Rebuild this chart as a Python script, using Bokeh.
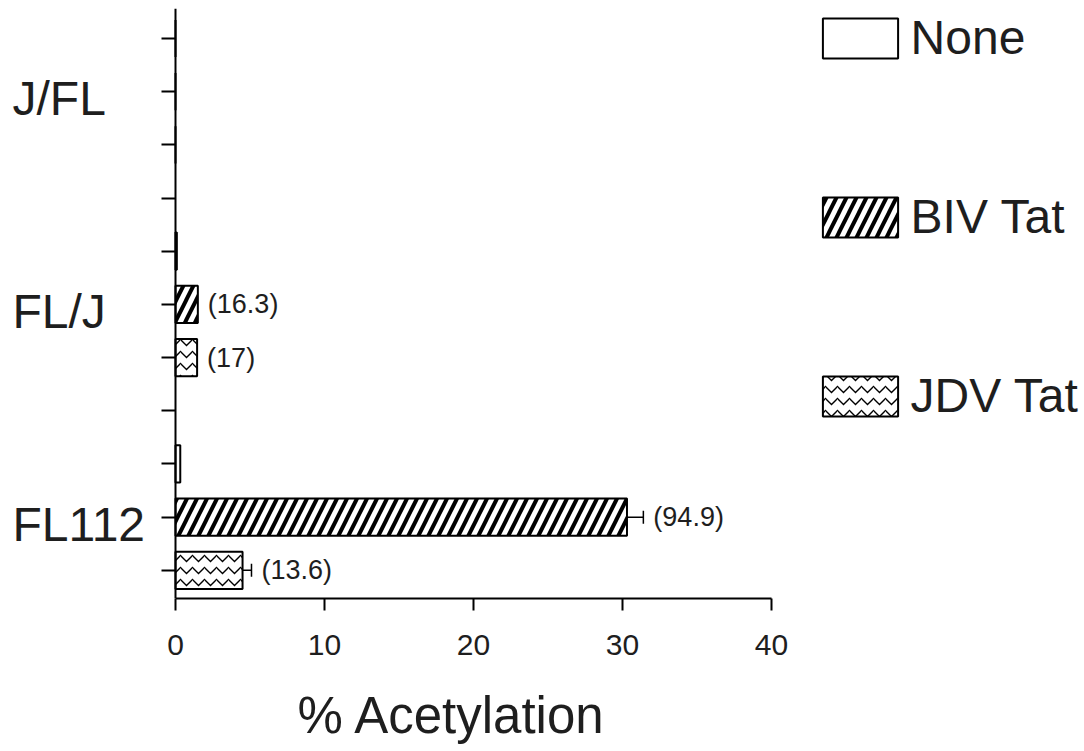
from bokeh.plotting import figure
from bokeh.models import (ColumnDataSource, Range1d, FixedTicker, Whisker, TeeHead,
                          Label, Legend, LegendItem, Title)
from bokeh.core.properties import value
from bokeh.embed import file_html
from bokeh.resources import INLINE

# ---- data ----
groups = ["J/FL", "FL/J", "FL112"]
series = ["None", "BIV Tat", "JDV Tat"]
none_vals = [0.0, 0.09, 0.32]
biv_vals = [0.0, 1.5, 30.3]
jdv_vals = [0.0, 1.45, 4.5]
none_err = [0.0, 0.0, 0.0]
biv_err = [0.0, 0.0, 1.1]
jdv_err = [0.0, 0.0, 0.6]
none_fold = ["", "", ""]
biv_fold = ["", "(16.3)", "(94.9)"]
jdv_fold = ["", "(17)", "(13.6)"]
x_ticks = [0, 10, 20, 30, 40]
x_title = "% Acetylation"

FONT = "Liberation Sans"
TXT = "#1e1e1e"

values = [none_vals, biv_vals, jdv_vals]
errors = [none_err, biv_err, jdv_err]
folds = [none_fold, biv_fold, jdv_fold]
hatches = [None, "right_diagonal_line", "horizontal_wave"]
hscale = [12, 20, 12]
hweight = [1, 4, 1.3]

slot = len(series) + 1          # three bars plus one empty slot per group
n_slots = slot * len(groups) - 1

W, AXL, AXW = 1084, 175, 596     # canvas width, x=0 position, axis length in px
xmax = x_ticks[-1]
ppu = AXW / xmax

p = figure(frame_width=W, frame_height=590,
           min_border_left=0, min_border_right=0,
           min_border_top=8, min_border_bottom=153,
           x_range=Range1d(-AXL / ppu, (W - AXL) / ppu),
           y_range=Range1d(n_slots - 1 + 0.53, -0.564),
           output_backend="svg", toolbar_location=None)
p.outline_line_color = None
p.xgrid.visible = False
p.ygrid.visible = False
p.background_fill_color = "white"
p.border_fill_color = "white"

renderers = []
for s_i, name in enumerate(series):
    ys = [slot * g + s_i for g in range(len(groups))]
    src = ColumnDataSource(dict(y=ys, x=values[s_i]))
    kw = {}
    if hatches[s_i]:
        kw = dict(hatch_pattern=hatches[s_i], hatch_color="black",
                  hatch_scale=hscale[s_i], hatch_weight=hweight[s_i])
    r = p.hbar(y="y", right="x", left=0, height=0.7, source=src,
               fill_color="white", line_color="black", line_width=2, **kw)
    renderers.append(r)

    # error bars
    ey, elo, ehi = [], [], []
    for g in range(len(groups)):
        if errors[s_i][g] > 0:
            ey.append(ys[g])
            elo.append(values[s_i][g] - errors[s_i][g])
            ehi.append(values[s_i][g] + errors[s_i][g])
    if ey:
        esrc = ColumnDataSource(dict(y=ey, lo=elo, hi=ehi))
        w = Whisker(base="y", lower="lo", upper="hi", dimension="width", source=esrc,
                    line_color="black", line_width=1.5,
                    upper_head=TeeHead(size=13, line_width=1.5, line_color="black"),
                    lower_head=TeeHead(size=13, line_width=1.5, line_color="black"))
        p.add_layout(w)

    # fold-activation labels
    ty, tx, tt = [], [], []
    for g in range(len(groups)):
        if folds[s_i][g]:
            ty.append(ys[g])
            tx.append(values[s_i][g] + errors[s_i][g])
            tt.append(folds[s_i][g])
    if ty:
        tsrc = ColumnDataSource(dict(x=tx, y=ty, t=tt))
        p.text(x="x", y="y", text="t", source=tsrc, x_offset=10,
               text_baseline="middle", text_align="left",
               text_font=value(FONT), text_font_size="27px", text_color=TXT)

# ---- axes ----
xa = p.xaxis[0]
xa.ticker = FixedTicker(ticks=x_ticks, minor_ticks=[])
xa.bounds = (0, xmax)
xa.axis_line_width = 2
xa.major_tick_line_width = 2
xa.major_tick_out = 12
xa.major_tick_in = 0
xa.major_label_text_font = FONT
xa.major_label_text_font_size = "30px"
xa.major_label_text_color = TXT
xa.major_label_standoff = 24

# x-axis title, centred under the drawn part of the axis
p.add_layout(Title(text=x_title, align="left", offset=297, standoff=54,
                   text_font=FONT, text_font_size="51px", text_font_style="normal",
                   text_color=TXT), "below")

ya = p.yaxis[0]
all_slots = list(range(n_slots))
ya.fixed_location = 0
ya.ticker = FixedTicker(ticks=all_slots, minor_ticks=[])
ya.major_label_overrides = {i: "" for i in all_slots}
ya.axis_line_width = 2
ya.major_tick_line_width = 2
ya.major_tick_out = 14
ya.major_tick_in = 0

# group names, left aligned near the page edge
for g, name in enumerate(groups):
    p.add_layout(Label(x=12, x_units="screen", y=slot * g + 1, y_units="data",
                       text=name, text_align="left", text_baseline="middle",
                       y_offset=-7, text_font=FONT, text_font_size="48px",
                       text_color=TXT))

legend = Legend(items=[LegendItem(label=s, renderers=[r]) for s, r in zip(series, renderers)],
                location=(812.6, 175), orientation="vertical",
                glyph_width=94, glyph_height=50, label_standoff=4,
                label_text_font=FONT, label_text_font_size="48px", label_text_color=TXT,
                spacing=124, padding=0, margin=0,
                border_line_color=None, background_fill_alpha=0)
p.add_layout(legend)

open("out.html", "w").write(file_html(p, INLINE))
